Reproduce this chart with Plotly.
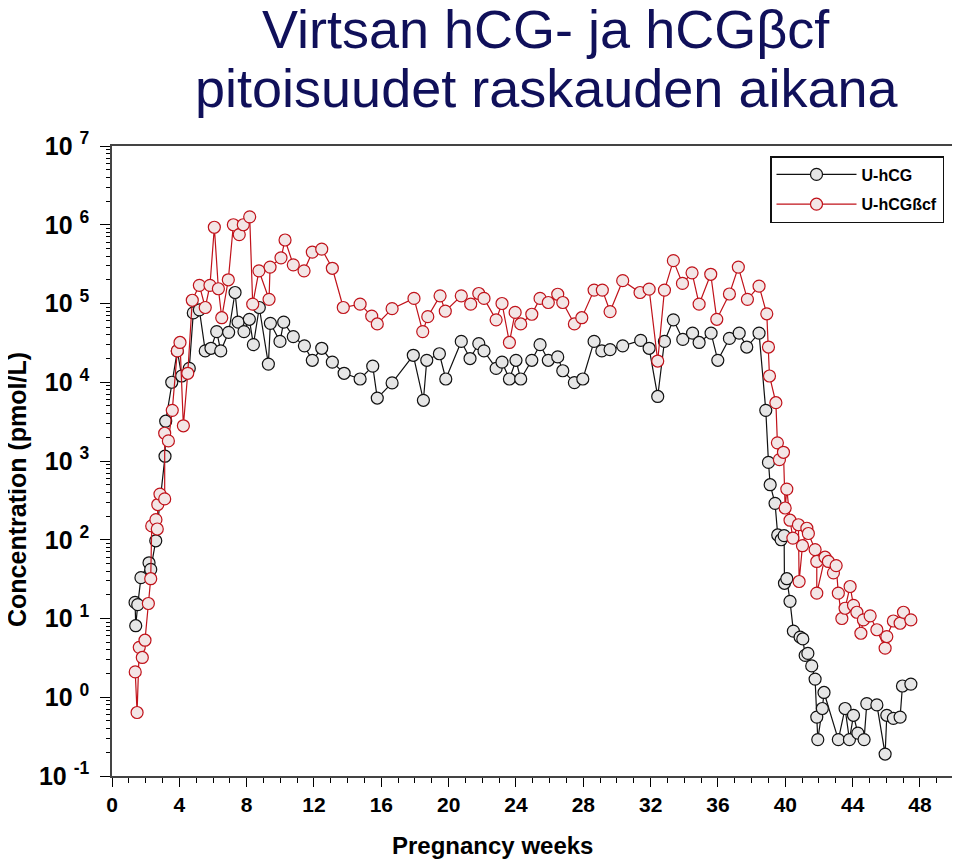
import plotly.graph_objects as go

# U-hCG (black line), pregnancy week vs concentration pmol/L
hcg_weeks = [
    1.37, 1.41, 1.53, 1.72, 2.20, 2.30, 2.60, 3.15, 3.19, 3.55, 3.88, 4.14, 4.59,
    4.83, 5.19, 5.54, 5.88, 6.22, 6.46, 6.93, 7.31, 7.49, 7.84, 8.16, 8.40, 8.75,
    9.29, 9.41, 9.98, 10.20, 10.77, 11.43, 11.90, 12.46, 13.09, 13.79, 14.74,
    15.49, 15.76, 16.64, 17.90, 18.50, 18.70, 19.45, 19.83, 20.75, 21.27, 21.79,
    22.10, 22.82, 23.17, 23.61, 24.00, 24.28, 24.94, 25.43, 25.92, 26.48, 26.78,
    27.47, 27.97, 28.64, 29.10, 29.59, 30.34, 31.41, 31.91, 32.42, 32.82, 33.35,
    33.91, 34.49, 34.88, 35.59, 35.99, 36.68, 37.26, 37.71, 38.44, 38.84, 39.00,
    39.10, 39.39, 39.55, 39.75, 39.93, 39.95, 40.09, 40.28, 40.48, 40.88, 41.04,
    41.18, 41.34, 41.57, 41.77, 41.87, 41.93, 42.20, 42.30, 43.15, 43.55, 43.81,
    44.05, 44.31, 44.68, 44.84, 45.44, 45.93, 46.03, 46.42, 46.82, 46.96, 47.46,
]
hcg_values = [
    16, 8.1, 15, 33, 51, 42, 97, 1150, 3200, 10000, 25000, 12000, 15000,
    76000, 83000, 25000, 27000, 44000, 25000, 43000, 138000, 58000, 44000, 63000, 30000, 89000,
    17000, 56000, 33000, 58000, 38000, 29000, 19000, 27000, 18000, 13000, 11000,
    16000, 6300, 9800, 22000, 5900, 19000, 23000, 11000, 33000, 20000, 31000,
    25000, 15000, 18000, 11000, 19000, 11000, 19000, 30000, 19000, 21000, 14000,
    9900, 11000, 33000, 25000, 26000, 29000, 34000, 27000, 6600, 33000, 62000,
    35000, 42000, 32000, 42000, 19000, 36000, 42000, 28000, 42000, 4400, 960,
    500, 290, 115, 100, 113, 28, 32, 16.5, 6.9, 5.8, 5.5,
    3.4, 3.6, 2.5, 1.7, 0.56, 0.29, 0.72, 1.15, 0.29, 0.72, 0.29,
    0.59, 0.35, 0.29, 0.83, 0.80, 0.19, 0.59, 0.54, 0.56, 1.39, 1.47,
]

# U-hCGβcf (red line)
cf_weeks = [
    1.38, 1.49, 1.62, 1.80, 1.96, 2.16, 2.30, 2.36, 2.61, 2.69, 2.72, 2.85, 3.13,
    3.13, 3.35, 3.58, 3.88, 4.04, 4.24, 4.50, 4.77, 5.19, 5.54, 5.82, 6.08, 6.32,
    6.52, 6.91, 7.21, 7.56, 7.80, 8.18, 8.36, 8.73, 9.33, 9.39, 10.04, 10.28,
    10.77, 11.41, 11.90, 12.46, 13.09, 13.74, 14.74, 15.43, 15.76, 16.64, 17.94,
    18.46, 18.76, 19.49, 19.80, 20.75, 21.31, 21.79, 22.10, 22.82, 23.17, 23.61,
    23.95, 24.28, 24.94, 25.43, 25.92, 26.48, 26.78, 27.47, 27.91, 28.64, 29.13,
    29.59, 30.34, 31.37, 31.91, 32.42, 32.82, 33.35, 33.89, 34.46, 34.88, 35.57,
    35.93, 36.68, 37.21, 37.75, 38.44, 38.90, 39.00, 39.06, 39.44, 39.53, 39.65,
    39.89, 39.99, 40.09, 40.28, 40.45, 40.78, 40.82, 41.02, 41.28, 41.37, 41.77,
    41.87, 41.87, 42.36, 42.56, 42.86, 43.02, 43.15, 43.36, 43.55, 43.85, 44.05,
    44.25, 44.49, 44.64, 45.04, 45.44, 45.93, 46.03, 46.42, 46.82, 47.02, 47.46,
]
cf_values = [
    2.1, 0.64, 4.3, 3.2, 5.3, 15.5, 32, 150, 180, 137, 280, 380, 330,
    2250, 1800, 4400, 25000, 32000, 2800, 13000, 110000, 170000, 89000, 170000, 930000, 154000,
    66000, 200000, 1000000, 750000, 1000000, 1260000, 98000, 260000, 113000, 290000, 380000, 640000,
    310000, 260000, 450000, 490000, 280000, 89000, 98000, 69000, 55000, 86000, 116000,
    44000, 68000, 125000, 80000, 125000, 98000, 134000, 116000, 62000, 100000, 32000,
    77000, 55000, 73000, 116000, 103000, 131000, 103000, 55000, 66000, 148000, 148000,
    79000, 195000, 138000, 152000, 18600, 148000, 350000, 180000, 245000, 98000, 235000,
    63000, 132000, 290000, 113000, 166000, 74000, 28000, 12000, 5500, 1700, 1040,
    1290, 253, 440, 177, 105, 155, 29.5, 84, 140, 120, 75,
    53, 21, 60, 53, 38, 47, 21, 10, 13.5, 25.5, 14.7,
    12, 6.5, 9.6, 10.8, 7.2, 4.2, 5.9, 9.3, 8.7, 12, 9.6,
]

y_tick_exponents = [-1, 0, 1, 2, 3, 4, 5, 6, 7]
x_ticks = list(range(0, 49, 4))

arial = "Liberation Sans, Arial, sans-serif"

fig = go.Figure()
fig.add_trace(go.Scatter(
    x=hcg_weeks, y=hcg_values, name="U-hCG", mode="lines+markers", legendgroup="a",
    line=dict(color="#111111", width=1.2),
    marker=dict(symbol="circle", size=12, color="#e6e6e6",
                line=dict(color="#111111", width=1.2)),
))
fig.add_trace(go.Scatter(
    x=cf_weeks, y=cf_values, name="U-hCGßcf", mode="lines+markers", legendgroup="b",
    line=dict(color="#c0121a", width=1.2),
    marker=dict(symbol="circle", size=12, color="#f3e6e6",
                line=dict(color="#c0121a", width=1.2)),
))

# page body has an 8px margin, so the figure is drawn 8px smaller and shifted
fig.update_layout(
    width=952, height=854,
    margin=dict(l=104, r=3, t=138, b=86),
    paper_bgcolor="white", plot_bgcolor="white",
    legend=dict(
        x=(944 - 112) / 845, xanchor="right", y=(776 - 156) / 630, yanchor="top",
        bordercolor="#111111", borderwidth=1.5, bgcolor="white",
        font=dict(family=arial, size=16, color="black", weight="bold"),
        itemwidth=80, tracegroupgap=6,
    ),
    showlegend=True,
)

fig.update_xaxes(
    range=[0, 50.2], tickvals=x_ticks, ticks="outside", ticklen=9, tickwidth=1.2,
    tickcolor="black", showgrid=False, zeroline=False, automargin=False,
    showline=True, linecolor="#444444", linewidth=1.5, mirror=True,
    tickfont=dict(family=arial, size=21, color="black", weight="bold"),
    minor=dict(dtick=1, ticks="outside", ticklen=5, tickcolor="black", showgrid=False),
)
fig.update_yaxes(
    type="log", range=[-1, 7], automargin=False,
    tickvals=[10 ** e for e in y_tick_exponents],
    ticktext=[f"10&nbsp;<sup>{e}</sup>" for e in y_tick_exponents],
    ticks="outside", ticklen=10, tickwidth=1.2, tickcolor="black",
    ticklabelstandoff=6,
    showgrid=False, zeroline=False,
    showline=True, linecolor="#444444", linewidth=1.5, mirror=True,
    tickfont=dict(family=arial, size=25, color="black", weight="bold"),
    minor=dict(dtick="D1", ticks="outside", ticklen=4, tickcolor="black", showgrid=False),
)

title_font = dict(family=arial, size=54, color="#10105a")
fig.add_annotation(
    text="Virtsan hCG- ja hCGβcf", xref="paper", yref="paper",
    x=(546 - 112) / 845, y=(776 - 29) / 630, xanchor="center", yanchor="middle",
    showarrow=False, font=title_font,
)
fig.add_annotation(
    text="pitoisuudet raskauden aikana", xref="paper", yref="paper",
    x=(546 - 112) / 845, y=(776 - 88) / 630, xanchor="center", yanchor="middle",
    showarrow=False, font=title_font,
)
fig.add_annotation(
    text="Pregnancy weeks", xref="paper", yref="paper",
    x=(492 - 112) / 845, y=-(845 - 776) / 630, xanchor="center", yanchor="middle",
    showarrow=False, font=dict(family=arial, size=24, color="black", weight="bold"),
)
fig.add_annotation(
    text="Concentration (pmol/L)", xref="paper", yref="paper", textangle=-90,
    x=-(112 - 17) / 845, y=(776 - 490) / 630, xanchor="center", yanchor="middle",
    showarrow=False, font=dict(family=arial, size=25, color="black", weight="bold"),
)

fig.write_html("out.html")
